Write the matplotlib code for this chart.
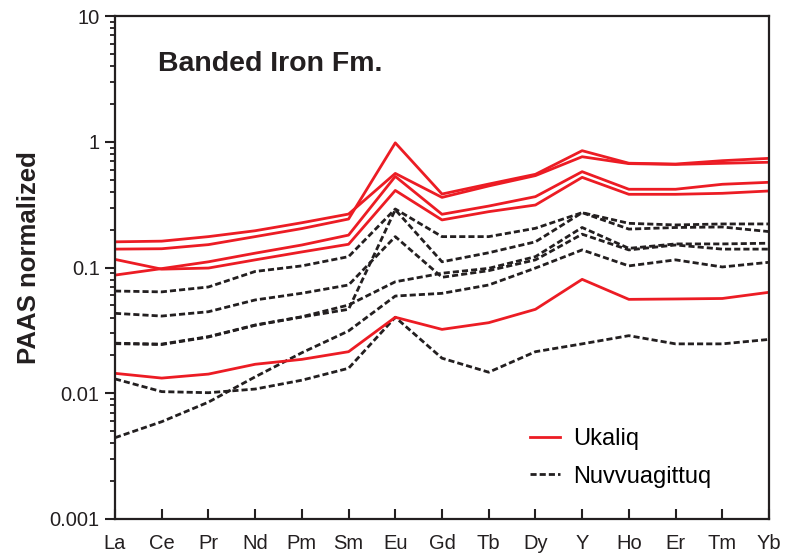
import matplotlib; matplotlib.use('Agg')
import matplotlib.pyplot as plt
import numpy as np

elements = ['La', 'Ce', 'Pr', 'Nd', 'Pm', 'Sm', 'Eu', 'Gd', 'Tb', 'Dy', 'Y', 'Ho', 'Er', 'Tm', 'Yb']

# Ukaliq (PAAS normalized)
ukaliq_1 = [0.160, 0.162, 0.176, 0.196, 0.227, 0.266, 0.56, 0.361, 0.445, 0.538, 0.760, 0.67, 0.66, 0.674, 0.687]
ukaliq_2 = [0.140, 0.141, 0.152, 0.176, 0.204, 0.243, 0.98, 0.384, 0.461, 0.551, 0.849, 0.675, 0.665, 0.707, 0.738]
ukaliq_3 = [0.087, 0.098, 0.111, 0.130, 0.151, 0.181, 0.53, 0.265, 0.308, 0.366, 0.578, 0.419, 0.419, 0.459, 0.476]
ukaliq_4 = [0.116, 0.097, 0.099, 0.115, 0.133, 0.153, 0.41, 0.239, 0.278, 0.314, 0.521, 0.382, 0.382, 0.389, 0.406]
ukaliq_5 = [0.0144, 0.0132, 0.0142, 0.0170, 0.0186, 0.0214, 0.0402, 0.0322, 0.0364, 0.0465, 0.0805, 0.0558, 0.0562, 0.0567, 0.0635]

# Nuvvuagittuq (PAAS normalized)
nuvv_1 = [0.065, 0.064, 0.070, 0.093, 0.103, 0.122, 0.292, 0.176, 0.176, 0.205, 0.273, 0.2245, 0.218, 0.222, 0.222]
nuvv_2 = [0.0432, 0.0411, 0.0445, 0.0552, 0.0624, 0.0726, 0.176, 0.0836, 0.0944, 0.115, 0.184, 0.138, 0.151, 0.140, 0.140]
nuvv_3 = [0.0250, 0.0246, 0.0282, 0.0349, 0.0406, 0.0503, 0.077, 0.090, 0.0985, 0.122, 0.208, 0.142, 0.154, 0.154, 0.156]
nuvv_4 = [0.0248, 0.0244, 0.0280, 0.0347, 0.0404, 0.0465, 0.288, 0.111, 0.131, 0.160, 0.273, 0.202, 0.208, 0.210, 0.193]
nuvv_5 = [0.0130, 0.0103, 0.0101, 0.0108, 0.0127, 0.0158, 0.0402, 0.0190, 0.0147, 0.0214, 0.0247, 0.0287, 0.0247, 0.0247, 0.0268]
nuvv_6 = [0.00443, 0.00594, 0.0085, 0.0135, 0.021, 0.0313, 0.0593, 0.0623, 0.0726, 0.099, 0.138, 0.103, 0.115, 0.101, 0.110]

ukaliq = [ukaliq_1, ukaliq_2, ukaliq_3, ukaliq_4, ukaliq_5]
nuvv = [nuvv_1, nuvv_2, nuvv_3, nuvv_4, nuvv_5, nuvv_6]

plt.rcParams['font.family'] = ['Liberation Sans', 'DejaVu Sans']

RED = '#ec1c24'
BLACK = '#231f20'
DASH = (0, (2.2, 1.1))

fig = plt.figure(figsize=(7.85, 5.6), dpi=100)
ax = fig.add_axes([115/785, 1 - 519/560, 654/785, 503/560])
x = np.arange(len(elements))

for s in nuvv:
    ax.plot(x, s, color=BLACK, lw=2.0, linestyle=DASH)
for s in ukaliq:
    ax.plot(x, s, color=RED, lw=2.0)

# legend proxies
ax.plot([], [], color=RED, lw=2.0, label='Ukaliq')
ax.plot([], [], color=BLACK, lw=2.0, linestyle=DASH, label='Nuvvuagittuq')

ax.set_yscale('log')
ax.set_ylim(0.001, 10)
ax.set_xlim(0, len(elements) - 1)
ax.set_xticks(x)
ax.set_xticklabels(elements)
ax.set_yticks([0.001, 0.01, 0.1, 1, 10])
ax.set_yticklabels(['0.001', '0.01', '0.1', '1', '10'])

for sp in ax.spines.values():
    sp.set_linewidth(1.6)
    sp.set_color(BLACK)
ax.tick_params(axis='x', direction='in', length=7, width=1.5, pad=10.5, labelsize=14.5, colors=BLACK)
ax.tick_params(axis='y', which='major', direction='out', length=7, width=1.5, pad=4, labelsize=14.5, colors=BLACK)
ax.tick_params(axis='y', which='minor', direction='out', length=3.5, width=1.3, colors=BLACK)

ax.set_ylabel('PAAS normalized', fontsize=18.5, fontweight='bold', color=BLACK)
ax.yaxis.set_label_coords(-0.113, 0.52)
ax.text(0.066, 0.905, 'Banded Iron Fm.', transform=ax.transAxes, fontsize=20.5,
        fontweight='bold', va='center', ha='left', color=BLACK)

ax.legend(loc='upper left', bbox_to_anchor=(0.635, 0.18), frameon=False, fontsize=17,
          handlelength=1.25, handletextpad=0.55, labelspacing=0.64, borderpad=0, borderaxespad=0)

fig.savefig('out.png', dpi=100)
